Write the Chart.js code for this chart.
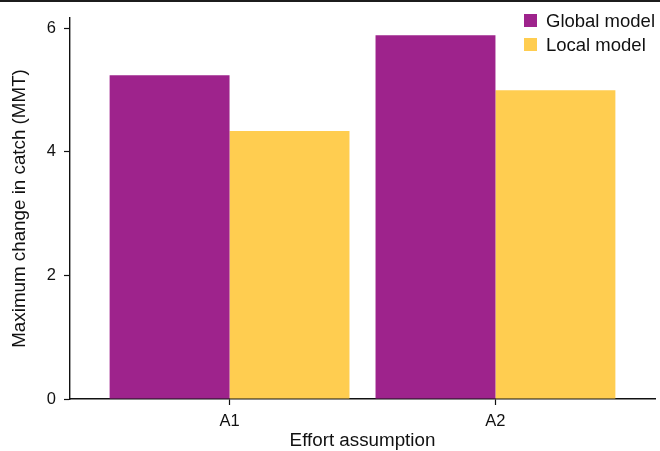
<!DOCTYPE html>
<html>
<head>
<meta charset="utf-8">
<script src="https://cdn.jsdelivr.net/npm/chart.js@4"></script>
<style>
  html, body { margin: 0; padding: 0; background: #fff; }
  #wrap { width: 660px; height: 451px; }
</style>
</head>
<body>
<div id="wrap"><canvas id="c" width="660" height="451"></canvas></div>
<script>
// Effort assumptions along the x axis
const categories = ['A1', 'A2'];
// Maximum change in catch (MMT) per model
const globalModel = [5.24, 5.89];
const localModel = [4.34, 5.0];
// Labelled y ticks
const yTicks = [0, 2, 4, 6];

const FONT = "'Liberation Sans', Arial, Helvetica, sans-serif";
const PURPLE = '#9e238c';
const YELLOW = '#ffcd50';

const toPoints = vals => vals.map((v, i) => ({ x: i, y: v }));

// Key in the upper right corner, one row per dataset
const cornerKey = {
  id: 'cornerKey',
  afterDraw(chart) {
    const ctx = chart.ctx;
    const area = chart.chartArea;
    ctx.save();
    ctx.font = '18.5px ' + FONT;
    ctx.textBaseline = 'middle';
    ctx.textAlign = 'left';
    chart.data.datasets.forEach((ds, i) => {
      const boxX = area.right - 131;
      const rowY = 20.5 + i * 24;
      ctx.fillStyle = ds.backgroundColor;
      ctx.fillRect(boxX, rowY - 6.5, 13, 13);
      ctx.fillStyle = '#111';
      ctx.fillText(ds.label, boxX + 22, rowY + 1);
    });
    ctx.restore();
  }
};

// Thin dark rule along the top edge of the figure
const topRule = {
  id: 'topRule',
  afterDraw(chart) {
    const ctx = chart.ctx;
    ctx.save();
    ctx.fillStyle = '#1c1c1c';
    ctx.fillRect(0, 0, chart.width, 2);
    ctx.restore();
  }
};

new Chart(document.getElementById('c'), {
  type: 'bar',
  data: {
    datasets: [
      { label: 'Global model', data: toPoints(globalModel), backgroundColor: PURPLE },
      { label: 'Local model', data: toPoints(localModel), backgroundColor: YELLOW }
    ]
  },
  options: {
    responsive: false,
    animation: false,
    devicePixelRatio: 1,
    layout: { padding: { top: 16, right: 5, left: 0, bottom: 0 } },
    datasets: {
      bar: { categoryPercentage: 0.902, barPercentage: 1.0, borderWidth: 0 }
    },
    plugins: {
      legend: { display: false },
      tooltip: { enabled: false }
    },
    scales: {
      x: {
        type: 'linear',
        min: -0.6,
        max: 1.6,
        offset: false,
        afterFit(scale) { scale.height = 52; },
        afterBuildTicks(scale) { scale.ticks = categories.map((_, i) => ({ value: i })); },
        ticks: {
          callback: v => categories[v],
          font: { family: FONT, size: 16.5 },
          color: '#111',
          padding: 7,
          maxRotation: 0,
          autoSkip: false
        },
        grid: {
          offset: false,
          display: true,
          drawOnChartArea: false,
          drawTicks: true,
          tickLength: 6,
          tickWidth: 1.2,
          tickColor: '#111'
        },
        border: { display: true, color: '#111', width: 1.4 },
        title: {
          display: true,
          text: 'Effort assumption',
          font: { family: FONT, size: 18.8 },
          color: '#111',
          padding: { top: 0, bottom: -1 }
        }
      },
      y: {
        min: 0,
        max: 6.17,
        afterFit(scale) { scale.width = 70; },
        afterBuildTicks(scale) { scale.ticks = yTicks.map(v => ({ value: v })); },
        ticks: {
          font: { family: FONT, size: 16.5 },
          color: '#111',
          padding: 8
        },
        grid: {
          display: true,
          drawOnChartArea: false,
          drawTicks: true,
          tickLength: 6,
          tickWidth: 1.2,
          tickColor: '#111'
        },
        border: { display: true, color: '#111', width: 1.4 },
        title: {
          display: true,
          text: 'Maximum change in catch (MMT)',
          font: { family: FONT, size: 18.8 },
          color: '#111',
          padding: { top: 9, bottom: 0 }
        }
      }
    }
  },
  plugins: [cornerKey, topRule]
});
</script>
</body>
</html>
